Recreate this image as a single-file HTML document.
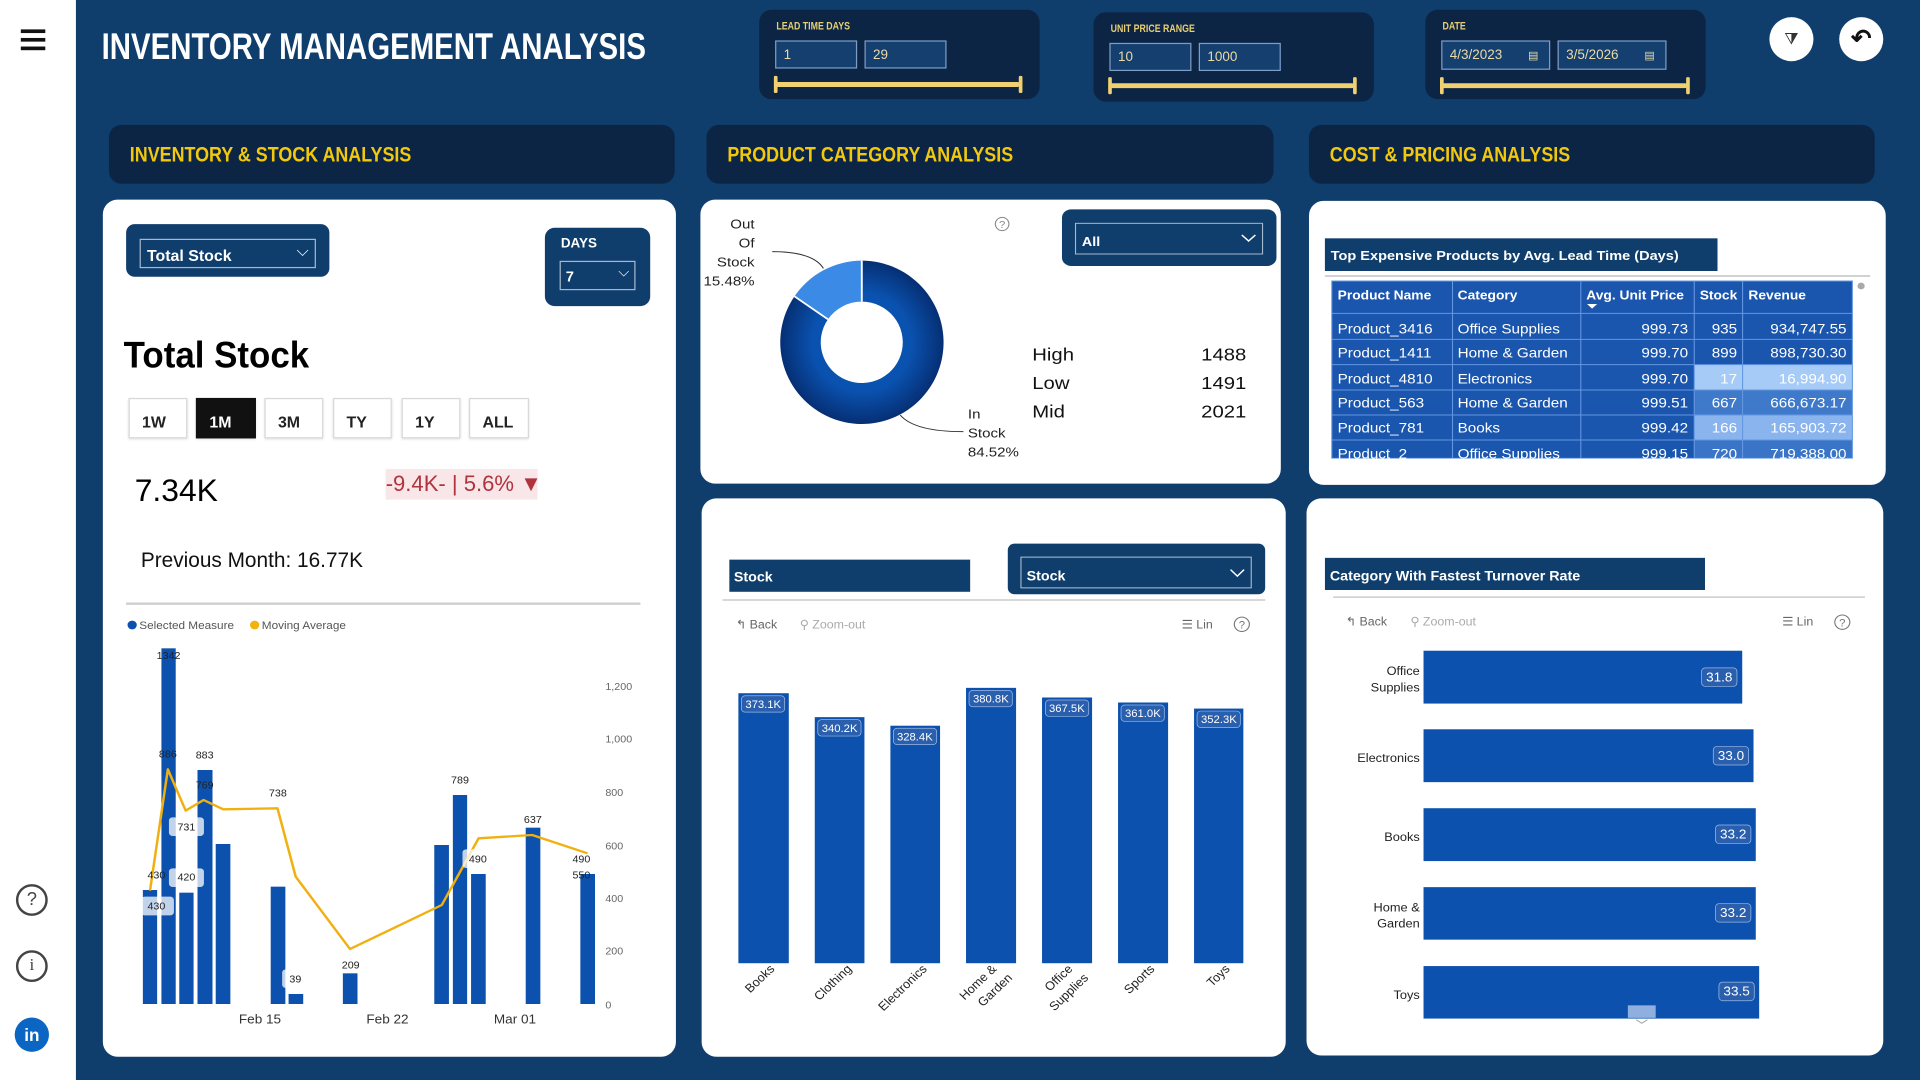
<!DOCTYPE html>
<html><head><meta charset="utf-8"><style>
*{margin:0;padding:0;box-sizing:border-box}
body{width:1920px;height:1080px;overflow:hidden;background:#0f3e6d;font-family:"Liberation Sans",sans-serif;position:relative}
#w{position:absolute;left:0;top:0;width:1568px;height:882px;transform:scale(1.22449);transform-origin:0 0}
.a{position:absolute}
.dark{background:#0c2544;border-radius:10px}
.card{background:#fff;border-radius:12px}
.sec{color:#f2c80f;font-weight:bold;font-size:17px;white-space:nowrap;transform:scaleX(.86);transform-origin:0 50%}
.flab{color:#e9cf72;font-size:9px;font-weight:bold;transform:scaleX(.8);transform-origin:0 0;white-space:nowrap}
.inp{border:1px solid #7d9cc6;background:#143f6e;color:#eadba8;font-size:11px;padding:5px 0 0 6px}
.sl{height:4px;background:#f0d070;border-radius:2px}
.cap{width:3px;height:14px;background:#f0d070;border-radius:1px}
.btn{border:1px solid #d8d8d8;background:#fff;font-size:13px;font-weight:bold;color:#222;padding:11px 0 0 10px;box-shadow:0 1px 2px rgba(0,0,0,.15)}
svg{position:absolute;overflow:visible}
</style></head><body>
<div id="w">
<!-- sidebar -->
<div class="a" style="left:0;top:0;width:62px;height:882px;background:#fff"></div>
<div class="a" style="left:17px;top:24px;width:20px;height:3px;background:#111"></div>
<div class="a" style="left:17px;top:31px;width:20px;height:3px;background:#111"></div>
<div class="a" style="left:17px;top:38px;width:20px;height:3px;background:#111"></div>
<div class="a" style="left:13px;top:722px;width:26px;height:26px;border:2px solid #444;border-radius:50%;font-size:15px;text-align:center;line-height:22px;color:#444">?</div>
<div class="a" style="left:13px;top:776px;width:26px;height:26px;border:2px solid #444;border-radius:50%;font-size:14px;text-align:center;line-height:22px;color:#444;font-family:'Liberation Serif',serif">i</div>
<div class="a" style="left:12px;top:831px;width:28px;height:28px;background:#0a66c2;border-radius:50%;font-size:14px;font-weight:bold;text-align:center;line-height:28px;color:#fff">in</div>

<div class="a" style="left:83px;top:22px;color:#fff;font-size:30px;font-weight:bold;white-space:nowrap;transform:scaleX(.8);transform-origin:0 0">INVENTORY MANAGEMENT ANALYSIS</div>

<!-- filters -->
<div class="a dark" style="left:620px;top:8px;width:229px;height:73px"></div>
<div class="a flab" style="left:634px;top:16px">LEAD TIME DAYS</div>
<div class="a inp" style="left:633px;top:33px;width:67px;height:23px">1</div>
<div class="a inp" style="left:706px;top:33px;width:67px;height:23px">29</div>
<div class="a sl" style="left:633px;top:67px;width:200px"></div>
<div class="a cap" style="left:632px;top:62px"></div><div class="a cap" style="left:832px;top:62px"></div>

<div class="a dark" style="left:893px;top:10px;width:229px;height:73px"></div>
<div class="a flab" style="left:907px;top:18px">UNIT PRICE RANGE</div>
<div class="a inp" style="left:906px;top:35px;width:67px;height:23px">10</div>
<div class="a inp" style="left:979px;top:35px;width:67px;height:23px">1000</div>
<div class="a sl" style="left:906px;top:68px;width:200px"></div>
<div class="a cap" style="left:905px;top:63px"></div><div class="a cap" style="left:1105px;top:63px"></div>

<div class="a dark" style="left:1164px;top:8px;width:229px;height:73px"></div>
<div class="a flab" style="left:1178px;top:16px">DATE</div>
<div class="a inp" style="left:1177px;top:33px;width:89px;height:24px">4/3/2023 <span style="margin-left:18px;font-size:9px">▤</span></div>
<div class="a inp" style="left:1272px;top:33px;width:89px;height:24px">3/5/2026 <span style="margin-left:18px;font-size:9px">▤</span></div>
<div class="a sl" style="left:1177px;top:68px;width:201px"></div>
<div class="a cap" style="left:1176px;top:63px"></div><div class="a cap" style="left:1377px;top:63px"></div>

<div class="a" style="left:1445px;top:14px;width:36px;height:36px;background:#fff;border-radius:50%;text-align:center;line-height:36px;font-size:13px;color:#333">⧩</div>
<div class="a" style="left:1502px;top:14px;width:36px;height:36px;background:#fff;border-radius:50%;text-align:center;line-height:36px;font-size:20px;font-weight:bold;color:#111">↶</div>

<!-- section headers -->
<div class="a dark" style="left:89px;top:102px;width:462px;height:48px"></div>
<div class="a sec" style="left:106px;top:117px">INVENTORY &amp; STOCK ANALYSIS</div>
<div class="a dark" style="left:577px;top:102px;width:463px;height:48px"></div>
<div class="a sec" style="left:594px;top:117px">PRODUCT CATEGORY ANALYSIS</div>
<div class="a dark" style="left:1069px;top:102px;width:462px;height:48px"></div>
<div class="a sec" style="left:1086px;top:117px">COST &amp; PRICING ANALYSIS</div>

<!-- cards -->
<div class="a card" style="left:84px;top:163px;width:468px;height:700px"></div>
<div class="a card" style="left:572px;top:163px;width:474px;height:232px"></div>
<div class="a card" style="left:1069px;top:164px;width:471px;height:232px"></div>
<div class="a card" style="left:573px;top:407px;width:477px;height:456px"></div>
<div class="a card" style="left:1067px;top:407px;width:471px;height:455px"></div>

<!-- card1 top -->
<div class="a" style="left:103px;top:183px;width:166px;height:43px;background:#0f3d6c;border-radius:7px"></div>
<div class="a" style="left:114px;top:195px;width:144px;height:24px;border:1px solid #a8b8cc;color:#fff;font-size:13px;font-weight:bold;padding:5px 0 0 5px">Total Stock<span style="position:absolute;right:5px;top:1px;font-weight:normal">⌵</span></div>
<div class="a" style="left:445px;top:186px;width:86px;height:64px;background:#0f3d6c;border-radius:8px"></div>
<div class="a" style="left:458px;top:193px;color:#fff;font-size:11px;font-weight:bold">DAYS</div>
<div class="a" style="left:457px;top:213px;width:62px;height:24px;border:1px solid #a8b8cc;color:#fff;font-size:12px;font-weight:bold;padding:5px 0 0 4px">7<span style="position:absolute;right:4px;top:1px;font-weight:normal">⌵</span></div>
<div class="a" style="left:101px;top:274px;font-size:30px;color:#000;font-weight:bold;transform:scaleX(.95);transform-origin:0 0">Total Stock</div>
<div class="a btn" style="left:105px;top:325px;width:48px;height:33px">1W</div>
<div class="a btn" style="left:160px;top:325px;width:49px;height:33px;background:#111;color:#fff;border-color:#111">1M</div>
<div class="a btn" style="left:216px;top:325px;width:48px;height:33px">3M</div>
<div class="a btn" style="left:272px;top:325px;width:48px;height:33px">TY</div>
<div class="a btn" style="left:328px;top:325px;width:48px;height:33px">1Y</div>
<div class="a btn" style="left:383px;top:325px;width:49px;height:33px">ALL</div>
<div class="a" style="left:110px;top:385px;font-size:26px;color:#000">7.34K</div>
<div class="a" style="left:315px;top:383px;width:124px;height:25px;background:#f8e6e8;color:#b0343c;font-size:18px;padding-top:2px;white-space:nowrap">-9.4K- | 5.6% ▼</div>
<div class="a" style="left:115px;top:448px;font-size:17px;color:#111">Previous Month: 16.77K</div>
<div class="a" style="left:103px;top:492px;width:420px;height:2px;background:#cfcfcf"></div>
</div>

<!-- line chart -->
<svg style="left:100px;top:600px" width="560" height="450" viewBox="0 0 1568 1350" preserveAspectRatio="none" font-family="Liberation Sans, sans-serif">
<circle cx="90" cy="75" r="13" fill="#0b51ad"/><text x="110" y="87" font-size="33" fill="#555">Selected Measure</text>
<circle cx="433" cy="75" r="13" fill="#f2b20f"/><text x="453" y="87" font-size="33" fill="#555">Moving Average</text>
<g fill="#0b51ad">
<rect x="120" y="870" width="40" height="342"/><rect x="172" y="145" width="40" height="1067"/><rect x="222" y="878" width="40" height="334"/><rect x="273" y="510" width="42" height="702"/><rect x="324" y="732" width="41" height="480"/><rect x="478" y="860" width="41" height="352"/><rect x="528" y="1182" width="41" height="30"/><rect x="680" y="1120" width="41" height="92"/><rect x="936" y="735" width="41" height="477"/><rect x="988" y="585" width="40" height="627"/><rect x="1039" y="822" width="41" height="390"/><rect x="1192" y="683" width="41" height="529"/><rect x="1345" y="822" width="41" height="390"/>
</g>
<g font-size="30" fill="#666"><text x="1415" y="270">1,200</text><text x="1415" y="428">1,000</text><text x="1415" y="588">800</text><text x="1415" y="748">600</text><text x="1415" y="906">400</text><text x="1415" y="1064">200</text><text x="1415" y="1225">0</text></g>
<g font-size="38" fill="#333" text-anchor="middle"><text x="448" y="1270">Feb 15</text><text x="805" y="1270">Feb 22</text><text x="1162" y="1270">Mar 01</text></g>
<polyline points="140,872 190,508 240,632 290,600 345,628 497,625 548,830 700,1047 957,915 1060,715 1210,705 1365,760" fill="none" stroke="#f0b010" stroke-width="7" stroke-linejoin="round"/>
<g fill="#fff" opacity=".75"><rect x="193" y="652" width="98" height="56" rx="10"/><rect x="193" y="805" width="98" height="56" rx="10"/><rect x="115" y="890" width="92" height="56" rx="10"/><rect x="510" y="1108" width="75" height="56" rx="10"/><rect x="1015" y="748" width="75" height="56" rx="10"/></g>
<g font-size="30" fill="#222" text-anchor="middle">
<text x="192" y="177">1342</text><text x="190" y="472">886</text><text x="293" y="475">883</text><text x="293" y="565">769</text><text x="242" y="692">731</text><text x="158" y="836">430</text><text x="242" y="842">420</text><text x="158" y="928">430</text><text x="498" y="590">738</text><text x="547" y="1148">39</text><text x="702" y="1105">209</text><text x="1008" y="551">789</text><text x="1058" y="788">490</text><text x="1212" y="669">637</text><text x="1348" y="788">490</text><text x="1348" y="836">550</text>
</g>
</svg>

<!-- donut -->
<svg style="left:700px;top:200px" width="590" height="280" viewBox="0 0 1568 840" preserveAspectRatio="none" font-family="Liberation Sans, sans-serif">
<defs><radialGradient id="rg" cx="50%" cy="50%" r="50%"><stop offset="60%" stop-color="#0a52b0"/><stop offset="100%" stop-color="#062f74"/></radialGradient></defs>
<path d="M430,182 A217,245 0 1,1 251,289 L340,358 A109,122 0 1,0 430,305 Z" fill="url(#rg)"/>
<path d="M430,182 L430,305 A109,122 0 0,0 340,358 L251,289 A217,245 0 0,1 430,182 Z" fill="#3b8ae6"/>
<line x1="430" y1="182" x2="430" y2="305" stroke="#fff" stroke-width="5"/><line x1="251" y1="289" x2="340" y2="358" stroke="#fff" stroke-width="5"/>
<path d="M192,155 Q300,155 328,205" fill="none" stroke="#333" stroke-width="3"/>
<path d="M532,645 Q570,695 700,695" fill="none" stroke="#333" stroke-width="3"/>
<g font-size="40" fill="#222" text-anchor="end"><text x="145" y="85">Out</text><text x="145" y="143">Of</text><text x="145" y="200">Stock</text><text x="145" y="257">15.48%</text></g>
<g font-size="40" fill="#222"><text x="712" y="655">In</text><text x="712" y="712">Stock</text><text x="712" y="770">84.52%</text></g>
<g font-size="54" fill="#111"><text x="883" y="482">High</text><text x="883" y="567">Low</text><text x="883" y="652">Mid</text></g>
<g font-size="54" fill="#111" text-anchor="end"><text x="1452" y="482">1488</text><text x="1452" y="567">1491</text><text x="1452" y="652">2021</text></g>
<ellipse cx="803" cy="72" rx="18" ry="20" fill="none" stroke="#888" stroke-width="3"/><text x="803" y="84" font-size="30" fill="#888" text-anchor="middle">?</text>
<rect x="962" y="28" width="570" height="170" rx="25" fill="#0f3d6c"/>
<rect x="998" y="70" width="497" height="92" fill="none" stroke="#a8b8cc" stroke-width="3"/>
<text x="1015" y="138" font-size="38" font-weight="bold" fill="#fff">All</text>
<polyline points="1440,105 1458,123 1476,105" fill="none" stroke="#fff" stroke-width="4"/>
</svg>

<!-- table -->
<svg style="left:1310px;top:200px" width="570" height="270" viewBox="0 0 1568 810" preserveAspectRatio="none" font-family="Liberation Sans, sans-serif">
<rect x="41" y="115" width="1080" height="98" fill="#0f3d6c"/>
<text x="57" y="180" font-size="40" font-weight="bold" fill="#fff">Top Expensive Products by Avg. Lead Time (Days)</text>
<line x1="41" y1="228" x2="1541" y2="228" stroke="#ccc" stroke-width="5"/>
<circle cx="1516" cy="258" r="10" fill="#aaa"/>
<rect x="60" y="243" width="1432" height="532" fill="#1a55ae"/>
<rect x="1057" y="494" width="435" height="76" fill="#a6cbf7"/>
<rect x="1057" y="570" width="435" height="75" fill="#3f79c9"/>
<rect x="1057" y="645" width="435" height="75" fill="#8ab4ee"/>
<rect x="1057" y="720" width="435" height="55" fill="#3a74c6"/>
<g stroke="#6497e2" stroke-width="3">
<line x1="60" y1="340" x2="1492" y2="340"/><line x1="60" y1="418" x2="1492" y2="418"/><line x1="60" y1="494" x2="1492" y2="494"/><line x1="60" y1="570" x2="1492" y2="570"/><line x1="60" y1="645" x2="1492" y2="645"/><line x1="60" y1="720" x2="1492" y2="720"/>
<line x1="392" y1="243" x2="392" y2="775"/><line x1="745" y1="243" x2="745" y2="775"/><line x1="1057" y1="243" x2="1057" y2="775"/><line x1="1190" y1="243" x2="1190" y2="775"/>
<rect x="60" y="243" width="1432" height="532" fill="none"/>
</g>
<g font-size="38" font-weight="bold" fill="#fff"><text x="76" y="298">Product Name</text><text x="406" y="298">Category</text><text x="760" y="298">Avg. Unit Price</text><text x="1072" y="298">Stock</text><text x="1206" y="298">Revenue</text></g>
<path d="M762,312 L790,312 L776,326 Z" fill="#fff"/>
<g font-size="42" fill="#fff">
<text x="76" y="400">Product_3416</text><text x="406" y="400">Office Supplies</text>
<text x="76" y="473">Product_1411</text><text x="406" y="473">Home &amp; Garden</text>
<text x="76" y="551">Product_4810</text><text x="406" y="551">Electronics</text>
<text x="76" y="623">Product_563</text><text x="406" y="623">Home &amp; Garden</text>
<text x="76" y="698">Product_781</text><text x="406" y="698">Books</text>
<text x="76" y="775">Product_2</text><text x="406" y="775">Office Supplies</text>
</g>
<g font-size="42" fill="#fff" text-anchor="end">
<text x="1040" y="400">999.73</text><text x="1175" y="400">935</text><text x="1476" y="400">934,747.55</text>
<text x="1040" y="473">999.70</text><text x="1175" y="473">899</text><text x="1476" y="473">898,730.30</text>
<text x="1040" y="551">999.70</text><text x="1175" y="551">17</text><text x="1476" y="551">16,994.90</text>
<text x="1040" y="623">999.51</text><text x="1175" y="623">667</text><text x="1476" y="623">666,673.17</text>
<text x="1040" y="698">999.42</text><text x="1175" y="698">166</text><text x="1476" y="698">165,903.72</text>
<text x="1040" y="775">999.15</text><text x="1175" y="775">720</text><text x="1476" y="775">719,388.00</text>
</g>
<rect x="0" y="776" width="1568" height="40" fill="#fff"/>
</svg>

<!-- middle bar chart -->
<svg style="left:700px;top:500px" width="590" height="560" viewBox="0 0 1568 1568" preserveAspectRatio="none" font-family="Liberation Sans, sans-serif">
<rect x="78" y="167" width="640" height="90" fill="#0f3d6c"/>
<text x="90" y="228" font-size="38" font-weight="bold" fill="#fff">Stock</text>
<rect x="818" y="122" width="684" height="142" rx="18" fill="#0f3d6c"/>
<rect x="853" y="160" width="612" height="86" fill="none" stroke="#a8b8cc" stroke-width="3"/>
<text x="868" y="225" font-size="38" font-weight="bold" fill="#fff">Stock</text>
<polyline points="1410,195 1428,213 1446,195" fill="none" stroke="#fff" stroke-width="4"/>
<line x1="60" y1="280" x2="1502" y2="280" stroke="#ccc" stroke-width="4"/>
<g font-size="33" fill="#666"><text x="95" y="360">↰ Back</text><text x="265" y="360" fill="#aaa">⚲ Zoom-out</text><text x="1280" y="360">☰ Lin</text></g>
<circle cx="1440" cy="348" r="20" fill="none" stroke="#777" stroke-width="3"/><text x="1440" y="360" font-size="30" fill="#777" text-anchor="middle">?</text>
<g fill="#0b51ad">
<rect x="102" y="541" width="134" height="756"/><rect x="305" y="608" width="132" height="689"/><rect x="506" y="632" width="132" height="665"/><rect x="707" y="526" width="133" height="771"/><rect x="909" y="553" width="133" height="744"/><rect x="1111" y="567" width="133" height="730"/><rect x="1313" y="584" width="131" height="713"/>
</g>
<g fill="#2a5fae" stroke="#9ab8e6" stroke-width="2">
<rect x="110" y="548" width="115" height="46" rx="10"/><rect x="313" y="615" width="115" height="46" rx="10"/><rect x="514" y="639" width="115" height="46" rx="10"/><rect x="715" y="533" width="115" height="46" rx="10"/><rect x="918" y="560" width="115" height="46" rx="10"/><rect x="1119" y="574" width="115" height="46" rx="10"/><rect x="1321" y="591" width="115" height="46" rx="10"/>
</g>
<g font-size="30" fill="#fff" text-anchor="middle">
<text x="168" y="582">373.1K</text><text x="371" y="649">340.2K</text><text x="571" y="673">328.4K</text><text x="773" y="567">380.8K</text><text x="975" y="594">367.5K</text><text x="1177" y="608">361.0K</text><text x="1379" y="625">352.3K</text>
</g>
<g font-size="34" fill="#222" text-anchor="end">
<text transform="translate(200,1315) rotate(-45)">Books</text>
<text transform="translate(405,1315) rotate(-45)">Clothing</text>
<text transform="translate(605,1315) rotate(-45)">Electronics</text>
<text transform="translate(790,1315) rotate(-45)">Home &amp;</text><text transform="translate(832,1340) rotate(-45)">Garden</text>
<text transform="translate(992,1315) rotate(-45)">Office</text><text transform="translate(1034,1340) rotate(-45)">Supplies</text>
<text transform="translate(1210,1315) rotate(-45)">Sports</text>
<text transform="translate(1410,1315) rotate(-45)">Toys</text>
</g>
</svg>

<!-- right bar chart -->
<svg style="left:1305px;top:500px" width="590" height="560" viewBox="0 0 1568 1568" preserveAspectRatio="none" font-family="Liberation Sans, sans-serif">
<rect x="53" y="162" width="1010" height="90" fill="#0f3d6c"/>
<text x="66" y="225" font-size="38" font-weight="bold" fill="#fff">Category With Fastest Turnover Rate</text>
<line x1="75" y1="272" x2="1488" y2="272" stroke="#ccc" stroke-width="4"/>
<g font-size="33" fill="#666"><text x="108" y="352">↰ Back</text><text x="280" y="352" fill="#aaa">⚲ Zoom-out</text><text x="1268" y="352">☰ Lin</text></g>
<circle cx="1428" cy="342" r="20" fill="none" stroke="#777" stroke-width="3"/><text x="1428" y="354" font-size="30" fill="#777" text-anchor="middle">?</text>
<g fill="#0b51ad">
<rect x="315" y="422" width="847" height="148"/><rect x="315" y="642" width="877" height="148"/><rect x="315" y="863" width="883" height="148"/><rect x="315" y="1084" width="883" height="147"/><rect x="315" y="1305" width="892" height="147"/>
</g>
<g fill="#2a5fae" stroke="#9ab8e6" stroke-width="2">
<rect x="1054" y="470" width="94" height="52" rx="10"/><rect x="1085" y="690" width="94" height="52" rx="10"/><rect x="1091" y="910" width="94" height="52" rx="10"/><rect x="1091" y="1130" width="94" height="52" rx="10"/><rect x="1100" y="1350" width="94" height="52" rx="10"/>
</g>
<g font-size="36" fill="#fff" text-anchor="middle"><text x="1101" y="508">31.8</text><text x="1132" y="728">33.0</text><text x="1138" y="948">33.2</text><text x="1138" y="1168">33.2</text><text x="1147" y="1388">33.5</text></g>
<g font-size="34" fill="#222" text-anchor="end">
<text x="305" y="490">Office</text><text x="305" y="536">Supplies</text>
<text x="305" y="734">Electronics</text>
<text x="305" y="955">Books</text>
<text x="305" y="1152">Home &amp;</text><text x="305" y="1197">Garden</text>
<text x="305" y="1397">Toys</text>
</g>
<rect x="858" y="1415" width="74" height="35" fill="#8fb0de"/>
<polyline points="880,1455 895,1465 910,1455" fill="none" stroke="#aaa" stroke-width="3"/>
</svg>
</body></html>
